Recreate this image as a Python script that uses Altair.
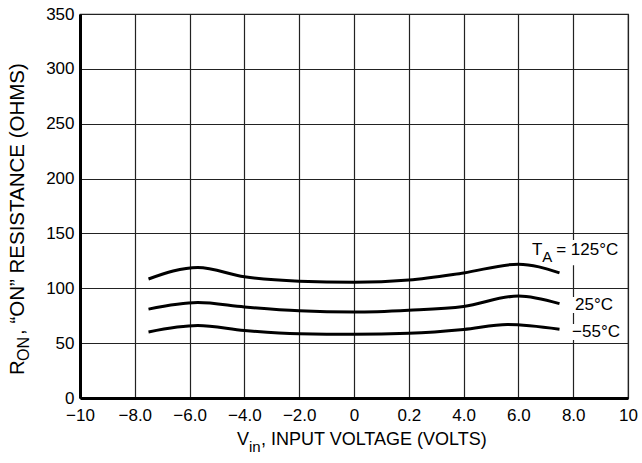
import altair as alt
import pandas as pd

# ---- data ----
v_125 = [-7.5, -5.7, -4.0, -2.0, 0.0, 2.0, 4.0, 6.0, 7.5]
r_125 = [108.5, 119.0, 110.5, 106.5, 105.5, 107.5, 114.0, 122.0, 114.0]

v_25 = [-7.5, -5.7, -4.0, -2.0, 0.0, 2.0, 4.0, 6.0, 7.5]
r_25 = [81.0, 87.0, 83.0, 79.5, 78.3, 80.0, 83.5, 93.0, 86.0]

v_m55 = [-7.5, -5.7, -4.0, -2.0, 0.0, 2.0, 4.0, 5.6, 7.5]
r_m55 = [60.2, 66.0, 61.5, 58.5, 58.0, 59.0, 62.5, 67.0, 62.7]

series_names = ["125", "25", "-55"]

x_tick_values = [-10, -8, -6, -4, -2, 0, 2, 4, 6, 8, 10]
x_tick_labels = ["\u221210", "\u22128.0", "\u22126.0", "\u22124.0", "\u22122.0",
                 "0", "0.2", "4.0", "6.0", "8.0", "10"]
y_tick_values = list(range(0, 351, 25))

FONT = "Liberation Sans"

rows = []
for name, vs, rs in zip(series_names, [v_125, v_25, v_m55], [r_125, r_25, r_m55]):
    for v, r in zip(vs, rs):
        rows.append({"temp": name, "v": v, "r": r})
df = pd.DataFrame(rows)

label_expr = "[" + ",".join("'" + s + "'" for s in x_tick_labels) + "][(datum.value + 10) / 2]"

xscale = alt.Scale(domain=[-10, 10], nice=False, zero=False)
yscale = alt.Scale(domain=[0, 350], nice=False)

x_axis = alt.Axis(values=x_tick_values, labelExpr=label_expr, grid=True, ticks=False,
                  domainWidth=3, domainColor="black", labelFontSize=17, labelFont=FONT,
                  labelColor="black", labelPadding=9, labelFlush=False, labelOverlap=False,
                  labelBound=False, gridColor="#222", gridWidth=1.2)
y_axis = alt.Axis(values=y_tick_values, labelExpr="datum.value % 50 === 0 ? datum.label : ''",
                  grid=True, ticks=False, domainWidth=3, domainColor="black",
                  labelFontSize=17, labelFont=FONT, labelColor="black", labelPadding=6,
                  labelFlush=False, labelOverlap=False, labelBound=False,
                  gridColor="#222", gridWidth=1.2)

lines = alt.Chart(df).mark_line(strokeWidth=3, interpolate="monotone").encode(
    x=alt.X("v:Q", scale=xscale, axis=x_axis, title=None),
    y=alt.Y("r:Q", scale=yscale, axis=y_axis, title=None),
    color=alt.Color("temp:N", scale=alt.Scale(domain=series_names, range=["black", "black", "black"]), legend=None),
    detail="temp:N",
)

# white backgrounds behind the curve labels
boxes_df = pd.DataFrame({
    "x": [6.42, 7.92, 7.92],
    "x2": [9.82, 9.56, 9.85],
    "y": [121.0, 77.5, 52.9],
    "y2": [144.0, 92.0, 67.5],
})
boxes = alt.Chart(boxes_df).mark_rect(color="white").encode(
    x=alt.X("x:Q", scale=xscale), x2="x2", y=alt.Y("y:Q", scale=yscale), y2="y2"
)

ann_df = pd.DataFrame({
    "x": [6.50, 7.38, 8.07, 7.96],
    "y": [134.9, 134.9, 84.8, 60.2],
    "t": ["T", "= 125\u00b0C", "25\u00b0C", "\u221255\u00b0C"],
})
ann = alt.Chart(ann_df).mark_text(align="left", baseline="middle", fontSize=17, font=FONT, color="black").encode(
    x=alt.X("x:Q", scale=xscale), y=alt.Y("y:Q", scale=yscale), text="t:N"
)
sub_df = pd.DataFrame({"x": [6.87], "y": [128.5], "t": ["A"]})
sub = alt.Chart(sub_df).mark_text(align="left", baseline="middle", fontSize=15, font=FONT, color="black").encode(
    x=alt.X("x:Q", scale=xscale), y=alt.Y("y:Q", scale=yscale), text="t:N"
)

def ptext(t, px, py, size, angle=0):
    c = alt.Chart(pd.DataFrame({"t": [t]}))
    kw = dict(align="left", baseline="middle", fontSize=size, font=FONT, color="black")
    if angle:
        kw["angle"] = angle
    return c.mark_text(**kw).encode(x=alt.value(px - 80), y=alt.value(py - 14), text="t:N")

# axis titles with subscripts (plot origin at 80,14)
title_parts = [
    ptext("R", 18, 375, 20.5, 270),
    ptext("ON", 24, 361, 16, 270),
    ptext(", \u201cON\u201d RESISTANCE (OHMS)", 18, 335, 20.5, 270),
    ptext("V", 237, 440, 18),
    ptext("in", 249, 447, 15),
    ptext(", INPUT VOLTAGE (VOLTS)", 261, 440, 18),
]

chart = alt.layer(boxes, lines, ann, sub, *title_parts).properties(
    width=548, height=384,
    autosize=alt.AutoSizeParams(type="none"),
    padding={"left": 80, "top": 14, "right": 14, "bottom": 65},
    background="white",
).configure_view(stroke="#222", strokeWidth=1.2)

chart.save("out.html", embed_options={"renderer": "svg", "actions": False})
